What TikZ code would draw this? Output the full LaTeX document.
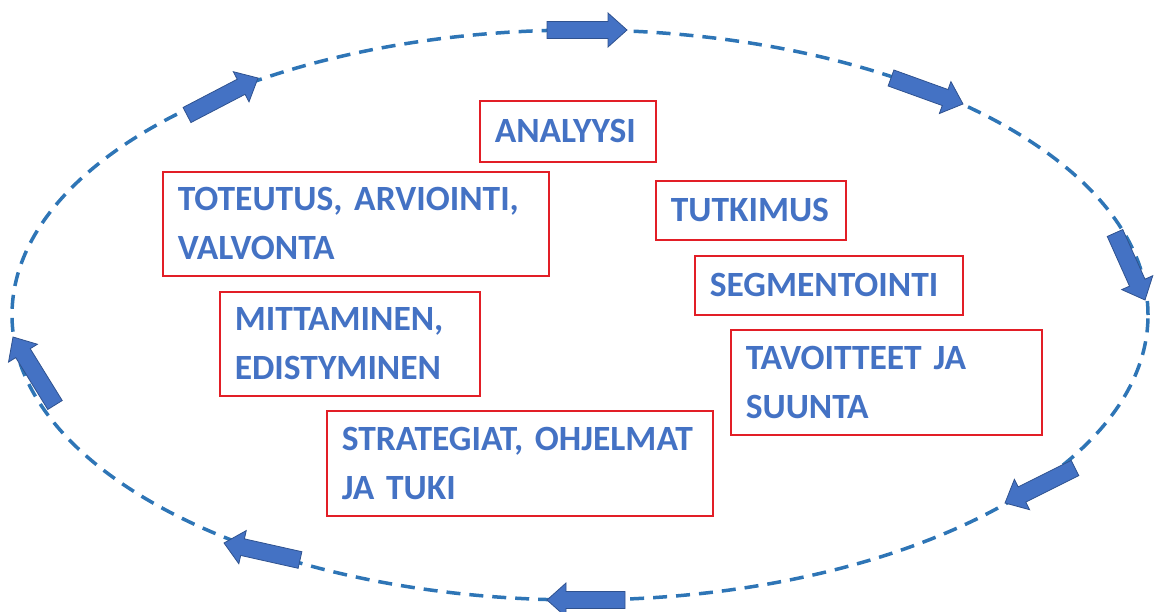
\documentclass[tikz,border=0pt]{standalone}
\usepackage{fontspec}
\setmainfont{Carlito}
\usetikzlibrary{calc}
\definecolor{txtblue}{RGB}{68,114,196}
\definecolor{arrfill}{RGB}{68,114,196}
\definecolor{arrline}{RGB}{47,82,143}
\definecolor{dashblue}{RGB}{46,117,182}
\definecolor{boxred}{RGB}{226,30,38}
\newcommand\myboxfont{\fontsize{35.5}{49}\selectfont\bfseries
  \fontdimen2\font=7.5pt\fontdimen3\font=0pt\fontdimen4\font=0pt\fontdimen7\font=0pt\relax}
\tikzset{
  stagebox/.style={draw=boxred, line width=1.6pt, anchor=north west, inner xsep=15pt, inner ysep=0pt,
    align=left, text=txtblue, font=\myboxfont},
  blockarrow/.style={fill=arrfill, draw=arrline, line width=0.8pt, line join=miter},
  cycleline/.style={draw=dashblue, line width=3.5pt, dash pattern=on 14pt off 9pt}
}
\newcommand\blockarr[2]{%
  \coordinate (ta) at #1; \coordinate (tb) at #2;
  \coordinate (th) at ($(tb)!19pt!(ta)$);
  \filldraw[blockarrow] ($(ta)!8.5pt!90:(tb)$) -- ($(th)!8.5pt!90:(tb)$) -- ($(th)!17pt!90:(tb)$)
    -- (tb) -- ($(th)!17pt!-90:(tb)$) -- ($(th)!8.5pt!-90:(tb)$) -- ($(ta)!8.5pt!-90:(tb)$) -- cycle;
}
\begin{document}
\begin{tikzpicture}[x=1pt,y=-1pt]
\useasboundingbox (0,0) rectangle (1161,612);
\draw[cycleline] (580,315) ellipse [x radius=568pt, y radius=285pt];
% arrows
\blockarr{(547,30)}{(627,30)}
\blockarr{(187,115)}{(258,78)}
\blockarr{(891,78)}{(963,104)}
\blockarr{(1115,233)}{(1145,300)}
\blockarr{(1075,468)}{(1005,503)}
\blockarr{(625,600)}{(547,600)}
\blockarr{(300,560)}{(224,543)}
\blockarr{(55,405)}{(13,337)}
% boxes
\node[stagebox, text width=146pt, minimum height=61pt] (analyysi) at (479,100) {ANALYYSI};
\node[stagebox, text width=356pt, minimum height=104pt] (toteutus) at (162,171) {TOTEUTUS, ARVIOINTI,\\VALVONTA};
\node[stagebox, text width=160pt, minimum height=59pt] (tutkimus) at (655,180) {TUTKIMUS};
\node[stagebox, text width=238pt, minimum height=59pt] (segment) at (694,255) {SEGMENTOINTI};
\node[stagebox, text width=230pt, minimum height=104pt] (mittaminen) at (219,291) {MITTAMINEN,\\EDISTYMINEN};
\node[stagebox, text width=281pt, minimum height=105pt] (tavoitteet) at (730,329) {TAVOITTEET JA\\SUUNTA};
\node[stagebox, text width=356pt, minimum height=105pt] (strategiat) at (326,410) {STRATEGIAT, OHJELMAT\\JA TUKI};
\end{tikzpicture}
\end{document}
